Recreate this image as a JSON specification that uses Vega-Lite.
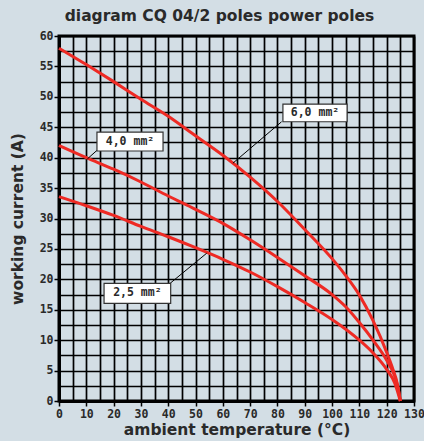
{
  "$schema": "https://vega.github.io/schema/vega-lite/v6.json",
  "width": 355,
  "height": 365,
  "autosize": "none",
  "padding": {"left": 59, "top": 36, "right": 10, "bottom": 40},
  "background": "#d3dee5",
  "title": {
    "text": "diagram CQ 04/2 poles power poles",
    "font": "DejaVu Sans",
    "fontWeight": "bold",
    "fontSize": 15.5,
    "color": "#2a2a2a",
    "anchor": "middle",
    "dx": -17,
    "offset": 6
  },
  "config": {
    "view": {"stroke": "#000", "strokeWidth": 3},
    "axis": {
      "labelFont": "DejaVu Sans Mono",
      "labelFontWeight": "bold",
      "labelFontSize": 11.5,
      "labelColor": "#2a2a2a",
      "titleFont": "DejaVu Sans",
      "titleFontWeight": "bold",
      "titleFontSize": 15.5,
      "titleColor": "#2a2a2a",
      "gridColor": "#000",
      "gridOpacity": 1,
      "gridWidth": 1.7,
      "tickColor": "#000",
      "tickWidth": 1.5,
      "domainColor": "#000",
      "domainWidth": 3
    }
  },
  "datasets": {
    "curves": [
      {"size": "6,0 mm²", "t": 0, "i": 58.0},
      {"size": "6,0 mm²", "t": 10, "i": 55.3},
      {"size": "6,0 mm²", "t": 20, "i": 52.5},
      {"size": "6,0 mm²", "t": 30, "i": 49.6},
      {"size": "6,0 mm²", "t": 40, "i": 46.8},
      {"size": "6,0 mm²", "t": 50, "i": 43.6},
      {"size": "6,0 mm²", "t": 60, "i": 40.4},
      {"size": "6,0 mm²", "t": 70, "i": 36.8},
      {"size": "6,0 mm²", "t": 80, "i": 32.8},
      {"size": "6,0 mm²", "t": 90, "i": 28.2},
      {"size": "6,0 mm²", "t": 100, "i": 23.4},
      {"size": "6,0 mm²", "t": 105, "i": 20.6},
      {"size": "6,0 mm²", "t": 110, "i": 17.4},
      {"size": "6,0 mm²", "t": 115, "i": 13.2},
      {"size": "6,0 mm²", "t": 120, "i": 8.0},
      {"size": "6,0 mm²", "t": 122, "i": 5.6},
      {"size": "6,0 mm²", "t": 124, "i": 2.6},
      {"size": "6,0 mm²", "t": 125, "i": 0},
      {"size": "4,0 mm²", "t": 0, "i": 42.0},
      {"size": "4,0 mm²", "t": 10, "i": 40.0},
      {"size": "4,0 mm²", "t": 20, "i": 38.1},
      {"size": "4,0 mm²", "t": 30, "i": 36.0},
      {"size": "4,0 mm²", "t": 40, "i": 33.7},
      {"size": "4,0 mm²", "t": 50, "i": 31.5},
      {"size": "4,0 mm²", "t": 60, "i": 29.2},
      {"size": "4,0 mm²", "t": 70, "i": 26.5},
      {"size": "4,0 mm²", "t": 80, "i": 23.6},
      {"size": "4,0 mm²", "t": 90, "i": 20.6},
      {"size": "4,0 mm²", "t": 100, "i": 17.5},
      {"size": "4,0 mm²", "t": 105, "i": 15.5},
      {"size": "4,0 mm²", "t": 110, "i": 12.9},
      {"size": "4,0 mm²", "t": 115, "i": 10.0},
      {"size": "4,0 mm²", "t": 120, "i": 6.7},
      {"size": "4,0 mm²", "t": 123, "i": 4.0},
      {"size": "4,0 mm²", "t": 124, "i": 2.4},
      {"size": "4,0 mm²", "t": 125, "i": 0},
      {"size": "2,5 mm²", "t": 0, "i": 33.6},
      {"size": "2,5 mm²", "t": 10, "i": 32.1},
      {"size": "2,5 mm²", "t": 20, "i": 30.5},
      {"size": "2,5 mm²", "t": 30, "i": 28.7},
      {"size": "2,5 mm²", "t": 40, "i": 27.0},
      {"size": "2,5 mm²", "t": 50, "i": 25.2},
      {"size": "2,5 mm²", "t": 60, "i": 23.3},
      {"size": "2,5 mm²", "t": 70, "i": 21.2},
      {"size": "2,5 mm²", "t": 80, "i": 18.8},
      {"size": "2,5 mm²", "t": 90, "i": 16.2},
      {"size": "2,5 mm²", "t": 100, "i": 13.4},
      {"size": "2,5 mm²", "t": 110, "i": 10.0},
      {"size": "2,5 mm²", "t": 115, "i": 7.9},
      {"size": "2,5 mm²", "t": 120, "i": 5.2},
      {"size": "2,5 mm²", "t": 123, "i": 2.9},
      {"size": "2,5 mm²", "t": 125, "i": 0}
    ],
    "labels": [
      {"label": "6,0 mm²", "bx": 82.0, "bx2": 105.5, "by": 45.9, "by2": 48.8, "cx": 93.75, "cy": 47.35, "lx": 81.5, "ly": 45.9, "lx2": 63.7, "ly2": 39.1},
      {"label": "4,0 mm²", "bx": 13.9, "bx2": 38.1, "by": 41.1, "by2": 44.2, "cx": 26.0, "cy": 42.65, "lx": 13.9, "ly": 41.2, "lx2": 10.4, "ly2": 39.8},
      {"label": "2,5 mm²", "bx": 16.5, "bx2": 40.9, "by": 16.06, "by2": 19.35, "cx": 28.7, "cy": 17.7, "lx": 40.7, "ly": 19.35, "lx2": 54.1, "ly2": 24.3}
    ]
  },
  "layer": [
    {
      "data": {"name": "curves"},
      "mark": {"type": "line", "color": "#ee2a24", "strokeWidth": 3, "interpolate": "monotone"},
      "encoding": {
        "x": {
          "field": "t", "type": "quantitative",
          "scale": {"domain": [0, 130], "nice": false},
          "axis": {"orient": "bottom", "values": [0,5,10,15,20,25,30,35,40,45,50,55,60,65,70,75,80,85,90,95,100,105,110,115,120,125,130], "labels": false, "ticks": false, "domain": false, "grid": true, "title": null}
        },
        "y": {
          "field": "i", "type": "quantitative",
          "scale": {"domain": [0, 60], "nice": false},
          "axis": {"orient": "left", "values": [0,2.5,5,7.5,10,12.5,15,17.5,20,22.5,25,27.5,30,32.5,35,37.5,40,42.5,45,47.5,50,52.5,55,57.5,60], "labels": false, "ticks": false, "domain": false, "grid": true, "title": null}
        },
        "detail": {"field": "size"}
      }
    },
    {
      "data": {"name": "labels"},
      "mark": {"type": "rule", "color": "#000", "strokeWidth": 1},
      "encoding": {
        "x": {
          "field": "lx", "type": "quantitative",
          "axis": {"orient": "bottom", "values": [0,10,20,30,40,50,60,70,80,90,100,110,120,130], "grid": false, "tickSize": 5, "labelPadding": 2, "labelFlush": false, "title": "ambient temperature (°C)", "titlePadding": 3}
        },
        "y": {
          "field": "ly", "type": "quantitative",
          "axis": {"orient": "left", "values": [0,5,10,15,20,25,30,35,40,45,50,55,60], "grid": false, "tickSize": 5, "labelPadding": 1, "title": "working current (A)", "titlePadding": 14}
        },
        "x2": {"field": "lx2"},
        "y2": {"field": "ly2"}
      }
    },
    {
      "data": {"name": "labels"},
      "mark": {"type": "rect", "fill": "#ffffff", "stroke": "#333", "strokeWidth": 1.2},
      "encoding": {
        "x": {"field": "bx", "type": "quantitative", "axis": null},
        "x2": {"field": "bx2"},
        "y": {"field": "by", "type": "quantitative", "axis": null},
        "y2": {"field": "by2"}
      }
    },
    {
      "data": {"name": "labels"},
      "mark": {"type": "text", "font": "DejaVu Sans Mono", "fontWeight": "bold", "fontSize": 11.5, "color": "#2a2a2a", "align": "center", "baseline": "middle"},
      "encoding": {
        "x": {"field": "cx", "type": "quantitative", "axis": null},
        "y": {"field": "cy", "type": "quantitative", "axis": null},
        "text": {"field": "label"}
      }
    }
  ],
  "resolve": {"axis": {"x": "independent", "y": "independent"}}
}
